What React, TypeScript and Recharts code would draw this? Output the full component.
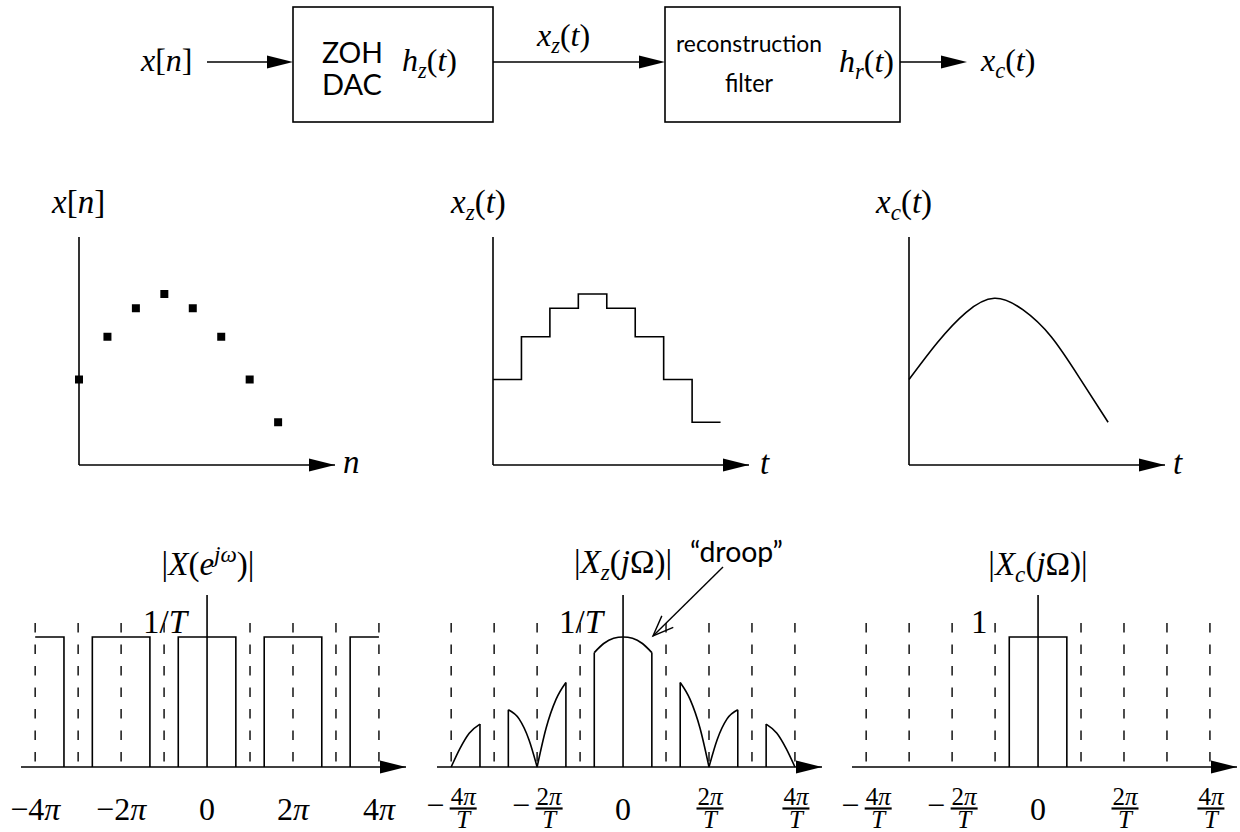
import React from 'react';
import {
  ComposedChart,
  Line,
  Scatter,
  XAxis,
  YAxis,
  ReferenceLine,
  ReferenceDot
} from 'recharts';

const SERIF = '"Liberation Serif", "DejaVu Serif", serif';
const SANS = 'Lato, "Open Sans", sans-serif';
const INK = '#000';

// time domain: samples x[n] and the reconstructed x_c(t)
const sampleN = [0, 1, 2, 3, 4, 5, 6, 7];
const sampleX = [3, 4.5, 5.5, 6, 5.5, 4.5, 3, 1.5];
const holdEnd = 8; // the last ZOH step runs to t = 8T
const analogT = [0, 1, 2, 3, 4, 5, 6, 7];
const analogX = [3.0, 4.3, 5.35, 5.85, 5.45, 4.5, 3.05, 1.5];
const timeMax = 9;
const ampMax = 8;

// frequency domain, in units of pi (or pi/T)
const guideW = [-4, -3, -2, -1, 1, 2, 3, 4];
const guideTop = 1.108;
const tickW = [-4, -2, 0, 2, 4];
const freqMin = -4.33;
const freqMax = 4.63;
const magMax = 1.323;
const specEdge = 4;

const dtftBands = [
  [-4, -3.33],
  [-2.67, -1.33],
  [-0.67, 0.67],
  [1.33, 2.67],
  [3.33, 4]
];
const dtftLevel = 1;

// |X_z(jΩ)|: images weighted by the sinc droop
const zohLobes: number[][][] = [
  [[-4, 0], [-3.8, 0.14], [-3.58, 0.26], [-3.33, 0.33]],
  [[-2.67, 0.44], [-2.42, 0.37], [-2.19, 0.21], [-2, 0]],
  [[-2, 0], [-1.79, 0.3], [-1.56, 0.52], [-1.33, 0.65]],
  [[-0.67, 0.88], [-0.45, 0.95], [-0.22, 0.99], [0, 1.0], [0.22, 0.99], [0.45, 0.95], [0.67, 0.88]],
  [[1.33, 0.65], [1.56, 0.52], [1.79, 0.3], [2, 0]],
  [[2, 0], [2.19, 0.21], [2.42, 0.37], [2.67, 0.44]],
  [[3.33, 0.33], [3.58, 0.26], [3.8, 0.14], [4, 0]]
];

const lpfBand = [-0.67, 0.67];
const lpfLevel = 1;

const samples = sampleN.map((n, i) => ({ t: n, v: sampleX[i] }));
const held = [...samples, { t: holdEnd, v: sampleX[sampleX.length - 1] }];
const analog = analogT.map((t, i) => ({ t, v: analogX[i] }));

const bandPath = ([lo, hi]: number[], level: number) => {
  const pts: { w: number; m: number }[] = [];
  if (lo > -specEdge) pts.push({ w: lo, m: 0 });
  pts.push({ w: lo, m: level }, { w: hi, m: level });
  if (hi < specEdge) pts.push({ w: hi, m: 0 });
  return pts;
};

const lobeEdges = zohLobes.flatMap(l => {
  const ends = [l[0], l[l.length - 1]].filter(p => p[1] > 0);
  return ends.map(([w, m]) => [{ w, m: 0 }, { w, m }]);
});

const ArrowHead = (p: any) => (
  <polygon
    points={`${p.cx},${p.cy} ${p.cx - 26},${p.cy - 6.5} ${p.cx - 26},${p.cy + 6.5}`}
    fill={INK}
  />
);

const PiTick = (p: any) => {
  const v = p.payload.value;
  const a = Math.abs(v);
  return (
    <text x={p.x} y={p.y + 53} textAnchor="middle" fontFamily={SERIF} fontSize={32} fill={INK}>
      {v === 0 ? '0' : (
        <>
          {v < 0 ? '\u2212' : ''}
          {a}
          <tspan fontStyle="italic">π</tspan>
        </>
      )}
    </text>
  );
};

const FracTick = (p: any) => {
  const v = p.payload.value;
  if (v === 0) {
    return (
      <text x={p.x} y={p.y + 53} textAnchor="middle" fontFamily={SERIF} fontSize={32} fill={INK}>0</text>
    );
  }
  const cx = v < 0 ? p.x + 12 : p.x + 1;
  return (
    <g fontFamily={SERIF} fill={INK}>
      {v < 0 && (
        <text x={p.x - 16} y={p.y + 49} textAnchor="middle" fontSize={32}>{'\u2212'}</text>
      )}
      <text x={cx} y={p.y + 38} textAnchor="middle" fontSize={25}>
        {Math.abs(v)}<tspan fontStyle="italic">π</tspan>
      </text>
      <line x1={cx - 13.5} x2={cx + 13.5} y1={p.y + 41.5} y2={p.y + 41.5} stroke={INK} strokeWidth={2.2} />
      <text x={cx} y={p.y + 61} textAnchor="middle" fontSize={25} fontStyle="italic">T</text>
    </g>
  );
};

const lineProps = {
  stroke: INK,
  strokeWidth: 1.6,
  dot: false,
  isAnimationActive: false,
  activeDot: false
} as const;

const TimePlot = ({ left, children }: { left: number; children: React.ReactNode }) => (
  <div style={{ position: 'absolute', left: left - 10, top: 227 }}>
    <ComposedChart width={291} height={248} margin={{ top: 10, right: 25, bottom: 10, left: 10 }}>
      <XAxis type="number" dataKey="t" domain={[0, timeMax]} hide />
      <YAxis type="number" dataKey="v" domain={[0, ampMax]} hide />
      <ReferenceLine x={0} stroke={INK} strokeWidth={1.6} />
      <ReferenceLine y={0} stroke={INK} strokeWidth={1.6} />
      <ReferenceDot x={timeMax} y={0} r={0} shape={ArrowHead} ifOverflow="visible" />
      {children}
    </ComposedChart>
  </div>
);

const FreqPlot = ({ plotLeft, ml, mr, tick, children }: any) => (
  <div style={{ position: 'absolute', left: plotLeft - ml, top: 585 }}>
    <ComposedChart width={ml + 385 + mr} height={247} margin={{ top: 10, right: mr, bottom: 0, left: ml }}>
      <XAxis
        type="number"
        dataKey="w"
        domain={[freqMin, freqMax]}
        ticks={tickW}
        interval={0}
        axisLine={false}
        tickLine={false}
        tickSize={0}
        tickMargin={0}
        height={65}
        tick={tick}
      />
      <YAxis type="number" dataKey="m" domain={[0, magMax]} hide />
      {guideW.map(w => (
        <ReferenceLine
          key={w}
          segment={[{ x: w, y: guideTop }, { x: w, y: 0 }]}
          stroke="#222"
          strokeWidth={1.6}
          strokeDasharray="9.5 12"
        />
      ))}
      <ReferenceLine x={0} stroke={INK} strokeWidth={1.6} />
      <ReferenceLine y={0} stroke={INK} strokeWidth={1.6} />
      <ReferenceDot x={freqMax} y={0} r={0} shape={ArrowHead} ifOverflow="visible" />
      {children}
    </ComposedChart>
  </div>
);

type Seg = { s: string; it?: boolean; sub?: boolean; sup?: boolean };

const MathText = ({ x, y, size = 33, segs, anchor = 'start' }: { x: number; y: number; size?: number; segs: Seg[]; anchor?: string }) => {
  let shift = 0;
  return (
    <text x={x} y={y} fontSize={size} fontFamily={SERIF} textAnchor={anchor as any} fill={INK}>
      {segs.map((g, i) => {
        const target = g.sub ? size * 0.22 : g.sup ? -size * 0.4 : 0;
        const dy = target - shift;
        shift = target;
        return (
          <tspan key={i} dy={dy} fontStyle={g.it ? 'italic' : 'normal'} fontSize={g.sub || g.sup ? size * 0.7 : size}>
            {g.s}
          </tspan>
        );
      })}
    </text>
  );
};

const xn: Seg[] = [{ s: 'x', it: true }, { s: '[' }, { s: 'n', it: true }, { s: ']' }];
const fn = (f: string, sub: string, arg = 't'): Seg[] => [
  { s: f, it: true },
  { s: sub, it: true, sub: true },
  { s: '(' },
  { s: arg, it: true },
  { s: ')' }
];

const Arrow = ({ x1, x2, y }: { x1: number; x2: number; y: number }) => (
  <g>
    <line x1={x1} x2={x2 - 20} y1={y} y2={y} stroke={INK} strokeWidth={1.6} />
    <polygon points={`${x2},${y} ${x2 - 26},${y - 6.5} ${x2 - 26},${y + 6.5}`} fill={INK} />
  </g>
);

const Overlay = () => {
  const tip = { x: 653, y: 636 };
  const from = { x: 723, y: 567 };
  const ang = Math.atan2(from.y - tip.y, from.x - tip.x);
  const barb = (d: number) => ({
    x: tip.x + 22 * Math.cos(ang + d),
    y: tip.y + 22 * Math.sin(ang + d)
  });
  const b1 = barb(0.38);
  const b2 = barb(-0.38);
  return (
    <svg width={1240} height={832} style={{ position: 'absolute', left: 0, top: 0, pointerEvents: 'none' }}>
      {/* block diagram */}
      <MathText x={141} y={71} size={32} segs={xn} />
      <Arrow x1={207} x2={293} y={62} />
      <rect x={293} y={7} width={200} height={115} fill="none" stroke={INK} strokeWidth={1.6} />
      <text x={322} y={63} fontFamily={SANS} fontSize={28} textLength={61} lengthAdjust="spacingAndGlyphs">ZOH</text>
      <text x={322} y={95} fontFamily={SANS} fontSize={28} textLength={60} lengthAdjust="spacingAndGlyphs">DAC</text>
      <MathText x={402} y={71} size={32} segs={fn('h', 'z')} />
      <Arrow x1={493} x2={665} y={62} />
      <MathText x={537} y={46} size={32} segs={fn('x', 'z')} />
      <rect x={665} y={7} width={235} height={115} fill="none" stroke={INK} strokeWidth={1.6} />
      <text x={676} y={52} fontFamily={SANS} fontSize={24} textLength={146} lengthAdjust="spacingAndGlyphs">reconstruction</text>
      <text x={725} y={92} fontFamily={SANS} fontSize={25} textLength={48} lengthAdjust="spacingAndGlyphs">filter</text>
      <MathText x={839} y={72} size={32} segs={fn('h', 'r')} />
      <Arrow x1={900} x2={967} y={62} />
      <MathText x={981} y={71} size={32} segs={fn('x', 'c')} />

      {/* time plot labels */}
      <MathText x={52} y={213} segs={xn} />
      <MathText x={451} y={213} segs={fn('x', 'z')} />
      <MathText x={876} y={213} segs={fn('x', 'c')} />
      <MathText x={343} y={473} segs={[{ s: 'n', it: true }]} />
      <MathText x={760} y={474} segs={[{ s: 't', it: true }]} />
      <MathText x={1173} y={474} segs={[{ s: 't', it: true }]} />

      {/* spectrum labels */}
      <MathText
        x={208}
        y={575}
        anchor="middle"
        segs={[{ s: '|' }, { s: 'X', it: true }, { s: '(' }, { s: 'e', it: true }, { s: 'jω', it: true, sup: true }, { s: ')|' }]}
      />
      <MathText x={143} y={633} segs={[{ s: '1/' }, { s: 'T', it: true }]} />
      <MathText
        x={623}
        y={573}
        anchor="middle"
        segs={[{ s: '|' }, { s: 'X', it: true }, { s: 'z', it: true, sub: true }, { s: '(' }, { s: 'j', it: true }, { s: 'Ω)|' }]}
      />
      <MathText x={559} y={633} segs={[{ s: '1/' }, { s: 'T', it: true }]} />
      <text x={690} y={562} fontFamily={SANS} fontSize={28} textLength={93} lengthAdjust="spacingAndGlyphs">{'\u201Cdroop\u201D'}</text>
      <line x1={from.x} y1={from.y} x2={tip.x} y2={tip.y} stroke={INK} strokeWidth={1.4} />
      <polyline points={`${b1.x},${b1.y} ${tip.x},${tip.y} ${b2.x},${b2.y}`} fill="none" stroke={INK} strokeWidth={1.4} />
      <MathText
        x={1038}
        y={575}
        anchor="middle"
        segs={[{ s: '|' }, { s: 'X', it: true }, { s: 'c', it: true, sub: true }, { s: '(' }, { s: 'j', it: true }, { s: 'Ω)|' }]}
      />
      <MathText x={971} y={633} segs={[{ s: '1' }]} />
    </svg>
  );
};

export default function App() {
  return (
    <div style={{ position: 'absolute', left: 0, top: 0, width: 1240, height: 832, background: '#fff', overflow: 'hidden' }}>
      <TimePlot left={79}>
        <Scatter data={samples} fill={INK} shape="square" isAnimationActive={false} />
      </TimePlot>
      <TimePlot left={493}>
        <Line data={held} dataKey="v" type="stepAfter" {...lineProps} />
      </TimePlot>
      <TimePlot left={909}>
        <Line data={analog} dataKey="v" type="natural" {...lineProps} />
      </TimePlot>

      <FreqPlot plotLeft={21} ml={21} mr={10} tick={PiTick}>
        {dtftBands.map((b, i) => (
          <Line key={i} data={bandPath(b, dtftLevel)} dataKey="m" type="linear" {...lineProps} />
        ))}
      </FreqPlot>
      <FreqPlot plotLeft={437} ml={30} mr={10} tick={FracTick}>
        {zohLobes.map((l, i) => (
          <Line key={'c' + i} data={l.map(([w, m]) => ({ w, m }))} dataKey="m" type="monotone" {...lineProps} />
        ))}
        {lobeEdges.map((e, i) => (
          <Line key={'e' + i} data={e} dataKey="m" type="linear" {...lineProps} />
        ))}
      </FreqPlot>
      <FreqPlot plotLeft={852} ml={30} mr={3} tick={FracTick}>
        <Line data={bandPath(lpfBand, lpfLevel)} dataKey="m" type="linear" {...lineProps} />
      </FreqPlot>

      <Overlay />
    </div>
  );
}
